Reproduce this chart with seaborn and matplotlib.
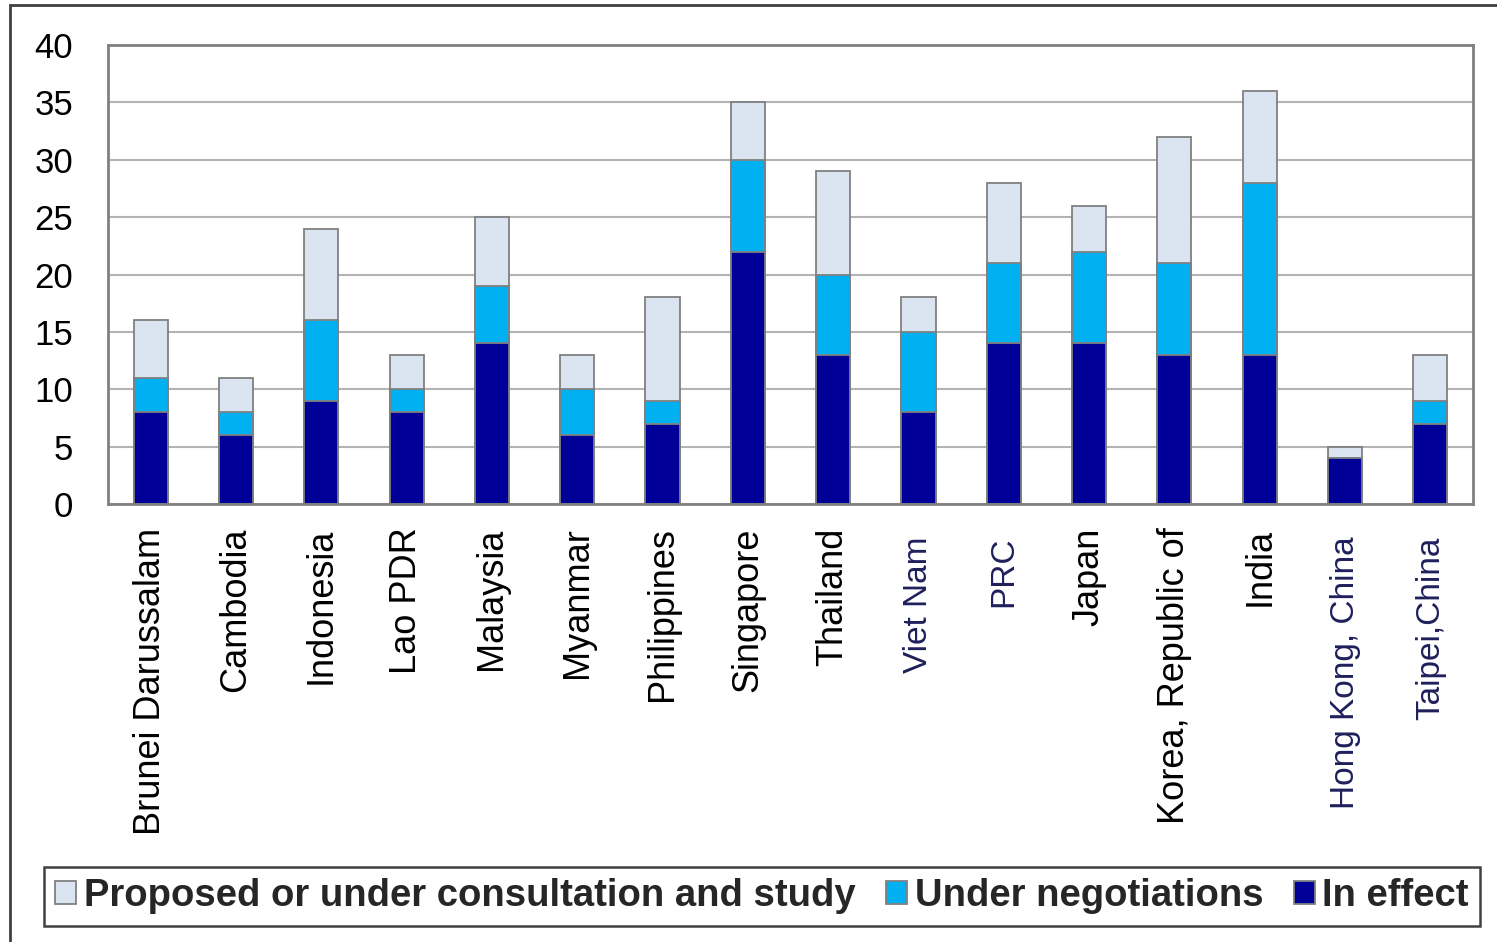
import numpy as np
import pandas as pd
import seaborn as sns
import matplotlib.pyplot as plt
from matplotlib.patches import Rectangle
from matplotlib.transforms import ScaledTranslation

# Free trade agreements by economy and status
countries = [
    "Brunei Darussalam", "Cambodia", "Indonesia", "Lao PDR", "Malaysia",
    "Myanmar", "Philippines", "Singapore", "Thailand", "Viet Nam", "PRC",
    "Japan", "Korea, Republic of", "India", "Hong Kong, China", "Taipei,China",
]
in_effect = [8, 6, 9, 8, 14, 6, 7, 22, 13, 8, 14, 14, 13, 13, 4, 7]
under_negotiations = [3, 2, 7, 2, 5, 4, 2, 8, 7, 7, 7, 8, 8, 15, 0, 2]
proposed = [5, 3, 8, 3, 6, 3, 9, 5, 9, 3, 7, 4, 11, 8, 1, 4]

# Labels printed in navy on the category axis
navy_labels = ["Viet Nam", "PRC", "Hong Kong, China", "Taipei,China"]

series_names = ["Proposed or under consultation and study",
                "Under negotiations", "In effect"]
y_ticks = [0, 5, 10, 15, 20, 25, 30, 35, 40]

df = pd.DataFrame({
    "country": countries,
    "in_effect": in_effect,
    "under_negotiations": under_negotiations,
    "proposed": proposed,
})
df["neg_top"] = df["in_effect"] + df["under_negotiations"]
df["total"] = df["neg_top"] + df["proposed"]

sns.set_theme(style="white")
plt.rcParams["font.family"] = ["Liberation Sans", "DejaVu Sans"]

PALE = "#DBE5F1"
CYAN = "#00B0F0"
NAVY = "#000099"
EDGE = "#808080"

fig = plt.figure(figsize=(14.97, 9.42), dpi=100)
ax = fig.add_axes([108 / 1497, 1 - 504 / 942, (1473 - 108) / 1497, (504 - 45) / 942])

# Stacked bars: draw cumulative heights from the top segment down
layers = [("total", PALE, series_names[0]),
          ("neg_top", CYAN, series_names[1]),
          ("in_effect", NAVY, series_names[2])]
for col, color, name in layers:
    sns.barplot(data=df, x="country", y=col, color=color, saturation=1,
                width=0.4, edgecolor=EDGE, linewidth=1.3, errorbar=None,
                label=name, ax=ax)

if ax.get_legend() is not None:
    ax.get_legend().remove()

ax.set_xlim(-0.5, len(countries) - 0.5)
ax.set_ylim(0, 40)
ax.set_yticks(y_ticks)
ax.set_xlabel("")
ax.set_ylabel("")

ax.set_axisbelow(True)
ax.yaxis.grid(True, color="#B3B3B3", linewidth=1.5)
ax.xaxis.grid(False)
for side in ["left", "bottom", "top", "right"]:
    ax.spines[side].set_visible(True)
    ax.spines[side].set_color(EDGE)
    ax.spines[side].set_linewidth(2)

ax.tick_params(axis="y", length=0, pad=25, labelsize=25, labelcolor="black")
ax.tick_params(axis="x", length=0, pad=17)
ax.set_xticks(range(len(countries)))
ax.set_xticklabels(countries, rotation=90)
shift_down = ScaledTranslation(0, -0.09, fig.dpi_scale_trans)
for lbl in ax.get_xticklabels():
    if lbl.get_text() in navy_labels:
        lbl.set_color("#1F1F5C")
        lbl.set_fontsize(24)
        lbl.set_transform(lbl.get_transform() + shift_down)
    else:
        lbl.set_color("black")
        lbl.set_fontsize(26)

handles, labels = ax.get_legend_handles_labels()
leg = fig.legend(handles[:3], labels[:3], loc="center",
                 bbox_to_anchor=(762 / 1497, 1 - 896.5 / 942), ncol=3,
                 frameon=True, fancybox=False, shadow=False,
                 edgecolor="#404040", framealpha=1,
                 prop=dict(weight="bold", size=27.5),
                 handlelength=0.55, handleheight=0.55, handletextpad=0.2,
                 columnspacing=0.8, borderpad=0.3, borderaxespad=0)
leg.get_frame().set_linewidth(1.8)

# Chart-area border
fig.patches.append(Rectangle((10 / 1497, -0.1), 1.2, 1 - 5 / 942 + 0.1,
                             transform=fig.transFigure, fill=False,
                             edgecolor="#404040", linewidth=2))

fig.savefig("out.png", dpi=100)
